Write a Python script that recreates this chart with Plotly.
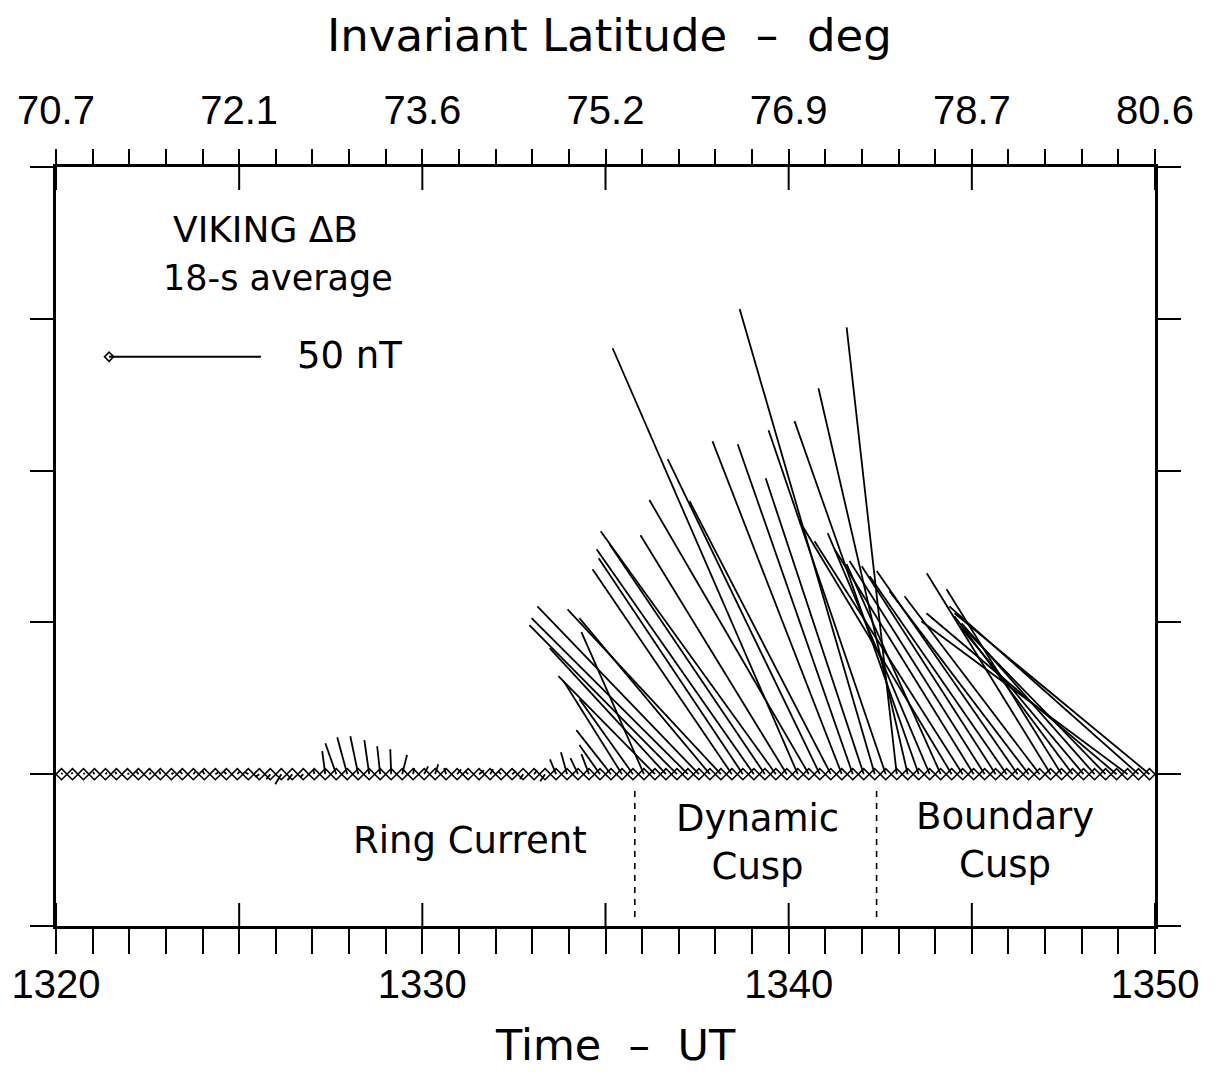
import numpy as np
import plotly.graph_objects as go

# ---------------- data ----------------
# 18-s average sample times (UT, minutes written as 13xx)
t = np.round(1320.15 + 0.3 * np.arange(100), 2)

# Magnetic perturbation components (nT): horizontal (negative = toward earlier time) and vertical
bx = [0.3, -0.3, 0.4, -0.5, 0.5, -0.4, 0.6, -0.6, 0.5, -0.3,
      0.7, -0.8, 0.6, -0.7, 0.9, -0.9, 0.8, -1.1, -1.3, -1.3,
      -2.0, -1.6, -1.0, -0.3, -1.0, -3.6, -3.3, -2.6, -1.6, -1.0,
      -0.3, 1.6, 0.3, 1.3, 1.0, -0.7, 1.3, -1.0, 1.6, 1.0,
      -1.0, 1.3, -1.0, 1.0, -1.6, -2.0, -2.0, -2.5, -2.5, -6.8,
      -11.4, -19.2, -17.6, -20.6, -31.8, -38.3, -48.6, -51.5, -53.2, -43.0,
      -50.5, -45.9, -47.5, -51.8, -51.2, -57.7, -48.2, -61.0, -52.5, -50.1,
      -46.5, -42.6, -37.9, -32.3, -44.5, -38.6, -16.5, -29.4, -40.9, -33.6,
      -31.0, -50.1, -48.8, -45.8, -44.5, -44.1, -45.1, -46.4, -45.8, -44.5,
      -40.8, -37.9, -38.9, -40.8, -43.8, -46.4, -62.6, -67.9, -62.3, -64.2]
by = [0.5, 0.6, 0.4, 0.7, 0.5, 0.8, 0.3, 0.9, 0.6, 1.0,
      0.5, 0.9, 0.8, 1.2, 0.6, 1.0, 0.9, 0.7, -0.9, -1.6,
      -3.3, -2.0, -1.0, 1.6, 7.6, 10.2, 12.2, 12.5, 11.2, 9.2,
      8.2, 6.3, 2.0, 2.6, 3.3, 2.0, 1.6, 1.0, 1.3, 1.6,
      1.0, 1.0, -1.6, 1.3, -2.3, 4.9, 7.2, 5.3, 6.6, 9.6,
      14.5, 30.6, 24.7, 46.8, 32.3, 41.5, 49.1, 51.4, 55.3, 51.4,
      54.3, 67.5, 71.1, 74.1, 75.8, 80.0, 78.7, 140.3, 90.3, 103.8,
      89.9, 109.7, 108.7, 97.5, 153.2, 113.3, 147.2, 127.1, 116.3, 79.4,
      69.2, 83.3, 76.7, 74.1, 70.2, 68.5, 65.2, 66.9, 60.3, 58.6,
      66.2, 60.9, 52.0, 48.7, 49.7, 47.8, 53.0, 50.4, 55.3, 53.0]

x_ticks = [1320, 1325, 1330, 1335, 1340, 1345, 1350]
x_ticktext = ["1320", "", "1330", "", "1340", "", "1350"]
lat_ticktext = ["70.7", "72.1", "73.6", "75.2", "76.9", "78.7", "80.6"]
y_ticks = [-50, 0, 50, 100, 150, 200]
region_bounds = [1335.8, 1342.4]
scale_nT = 50

# ---------------- layout geometry ----------------
W, H = 1216, 1072
ML, MT = 56, 167
pw, ph = 1099, 759
MR, MB = W - ML - pw, H - MT - ph
XR = [1320, 1350]
YR = [-50, 200]
px_per_min = pw / (XR[1] - XR[0])
px_per_nT = ph / (YR[1] - YR[0])
min_per_nT = px_per_nT / px_per_min   # horizontal stick scale, same length scale as vertical


def paper_x(px):
    return (px - ML) / pw


def paper_y(py):
    return (MT + ph - py) / ph


# ---------------- sticks ----------------
sx, sy = [], []
for ti, bxi, byi in zip(t, bx, by):
    sx += [ti, ti + bxi * min_per_nT, None]
    sy += [0, byi, None]

fig = go.Figure()
fig.add_trace(go.Scatter(x=sx, y=sy, mode="lines",
                         line=dict(color="black", width=1.8),
                         hoverinfo="skip", showlegend=False))
fig.add_trace(go.Scatter(x=t, y=[0] * len(t), mode="markers",
                         marker=dict(symbol="diamond-open", size=8.5,
                                     color="black", line=dict(width=1.6)),
                         showlegend=False))

# scale bar (50 nT)
bar_t0, bar_y = 1321.45, 137.5
fig.add_trace(go.Scatter(x=[bar_t0, bar_t0 + scale_nT * min_per_nT], y=[bar_y, bar_y],
                         mode="lines", line=dict(color="black", width=1.8),
                         showlegend=False))
fig.add_trace(go.Scatter(x=[bar_t0], y=[bar_y], mode="markers",
                         marker=dict(symbol="diamond-open", size=7,
                                     color="black", line=dict(width=1.6)),
                         showlegend=False))

# region boundaries (dashed)
for b in region_bounds:
    fig.add_trace(go.Scatter(x=[b, b], y=[-5.5, -49], mode="lines",
                             line=dict(color="black", width=1.6, dash="6px,6px"),
                             showlegend=False))

# invisible trace to activate top / right axes
fig.add_trace(go.Scatter(x=XR, y=YR, xaxis="x2", yaxis="y2", mode="markers",
                         marker=dict(opacity=0), showlegend=False, hoverinfo="skip"))

tick_font = dict(family="Liberation Sans, Arial, sans-serif", size=40, color="black")
axis_common = dict(showgrid=False, zeroline=False, showline=True,
                   linecolor="black", linewidth=2.5, tickcolor="black", tickwidth=2)

fig.update_layout(
    width=W, height=H,
    margin=dict(l=ML, r=MR, t=MT, b=MB, pad=0),
    paper_bgcolor="white", plot_bgcolor="white",
    xaxis=dict(range=XR, tickmode="array", tickvals=x_ticks, ticktext=x_ticktext,
               ticks="outside", ticklen=25, tickfont=tick_font, ticklabelstandoff=-4,
               minor=dict(tickmode="array", tickvals=list(range(1320, 1351)),
                          ticks="outside", ticklen=25, tickwidth=2, tickcolor="black"),
               **axis_common),
    xaxis2=dict(range=XR, overlaying="x", side="top", tickmode="array",
                tickvals=x_ticks, ticktext=lat_ticktext, ticks="outside", ticklen=15,
                tickfont=tick_font, ticklabelstandoff=9,
                minor=dict(tickmode="array", tickvals=list(range(1320, 1351)),
                           ticks="outside", ticklen=15, tickwidth=2, tickcolor="black"),
                **axis_common),
    yaxis=dict(range=YR, tickmode="array", tickvals=y_ticks, ticks="outside", ticklen=23,
               showticklabels=False, **axis_common),
    yaxis2=dict(range=YR, overlaying="y", side="right", tickmode="array", tickvals=y_ticks,
                ticks="outside", ticklen=23, showticklabels=False, **axis_common),
)

# inner halves of the major time ticks (they cross the axis line)
inner = 23 / ph
for v in x_ticks:
    fig.add_shape(type="line", xref="x", yref="paper", x0=v, x1=v, y0=0, y1=inner,
                  line=dict(color="black", width=2))
    fig.add_shape(type="line", xref="x", yref="paper", x0=v, x1=v, y0=1, y1=1 - inner,
                  line=dict(color="black", width=2))

word_font = "DejaVu Sans, Verdana, sans-serif"
NB = "\u00a0"
ann = []
ann.append(dict(text="Invariant Latitude " + NB + "\u2013" + NB + " deg", xref="paper", yref="paper",
                x=paper_x(609), y=paper_y(36), showarrow=False,
                xanchor="center", yanchor="middle",
                font=dict(family=word_font, size=45, color="black")))
ann.append(dict(text="Time " + NB + "\u2013" + NB + " UT", xref="paper", yref="paper",
                x=paper_x(615), y=paper_y(1045), showarrow=False,
                xanchor="center", yanchor="middle",
                font=dict(family=word_font, size=43, color="black")))
ann.append(dict(text="VIKING \u0394B", x=1325.72, y=179.5, showarrow=False,
                font=dict(family=word_font, size=36, color="black")))
ann.append(dict(text="18-s average", x=1326.07, y=163.5, showarrow=False,
                font=dict(family=word_font, size=35, color="black")))
ann.append(dict(text="50 nT", x=1328.0, y=138.0, showarrow=False,
                font=dict(family=word_font, size=37, color="black")))
ann.append(dict(text="Ring Current", x=1331.3, y=-21.7, showarrow=False,
                font=dict(family=word_font, size=37, color="black")))
ann.append(dict(text="Dynamic<br>Cusp", x=1339.16, y=-22.5, showarrow=False,
                font=dict(family=word_font, size=37, color="black")))
ann.append(dict(text="Boundary<br>Cusp", x=1345.9, y=-22.0, showarrow=False,
                font=dict(family=word_font, size=37, color="black")))
fig.update_layout(annotations=ann)

fig.write_html("out.html", config={"displayModeBar": False},
               post_script="document.body.style.margin='0';")
